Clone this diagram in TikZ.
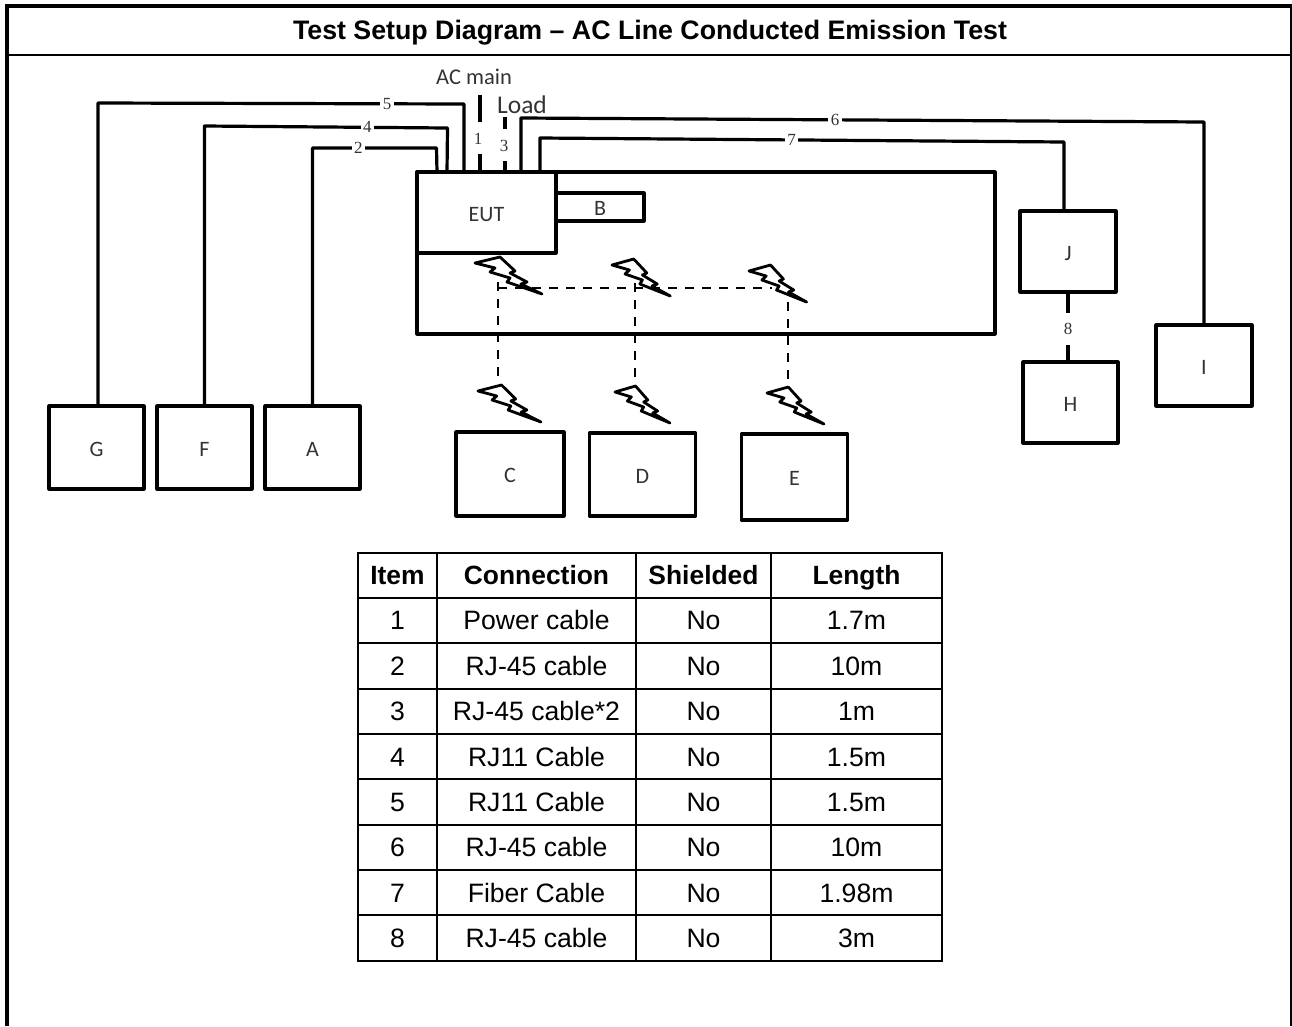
\documentclass[tikz,border=0pt]{standalone}
\usepackage{fontspec}
\setmainfont{Liberation Sans}
\newfontfamily\labelfont{Carlito}
\newfontfamily\numfont{Liberation Serif}
\usepackage{xcolor}

\tikzset{
  unit/.style={rectangle, draw=black, line width=3.2pt, inner sep=0pt, outer sep=0pt, line join=round, text height=17pt, text depth=0pt, font=\labelfont\fontsize{22}{24}\selectfont, text=black!80},
  cable/.style={draw=black, line width=3.2pt, line join=round},
  num/.style={fill=white, inner sep=2.5pt, font=\numfont\fontsize{17}{18}\selectfont, text=black!80},
  radio/.style={draw=black, line width=2.6pt, dash pattern=on 9pt off 8pt},
  cell/.style={rectangle, draw=black, line width=2pt, inner sep=0pt, outer sep=0pt, minimum height=45.35pt, text height=18.6pt, text depth=0pt, font=\fontsize{26.6}{28}\selectfont},
  head/.style={cell, font=\bfseries\fontsize{26.4}{28}\selectfont},
  bolt/.pic={
    \draw[line width=2.8pt, line join=round] (0,0) -- (25,-6) -- (40,8) -- (35,10) -- (52,19) -- (46,21) -- (67,31) -- (32,19) -- (35,15) -- (15,9) -- (20,5) -- cycle;
  }
}

\begin{document}
\begin{tikzpicture}[x=1pt, y=-1pt]
\useasboundingbox (0,0) rectangle (1292,1026);

\draw[line width=4pt] (7,1026) -- (7,6) -- (1292,6);
\draw[line width=2pt] (1291.3,6) -- (1291.3,1026);
\draw[line width=2pt] (7,54.5) -- (1292,54.5);
\node[font=\bfseries\fontsize{26.75}{28}\selectfont] (title) at (650,33) {Test Setup Diagram – AC Line Conducted Emission Test};

\node[unit, minimum width=578pt, minimum height=162pt] (bench) at (706,253) {};
\node[unit, minimum width=139pt, minimum height=81pt] (EUT) at (486.5,212.5) {EUT};
\node[unit, minimum width=88pt, minimum height=28pt] (B) at (600,207) {B};

\node[unit, minimum width=95pt, minimum height=83pt] (G) at (96.5,447.5) {G};
\node[unit, minimum width=95pt, minimum height=83pt] (F) at (204.5,447.5) {F};
\node[unit, minimum width=95pt, minimum height=83pt] (A) at (312.5,447.5) {A};
\node[unit, minimum width=108pt, minimum height=84pt] (C) at (510,474) {C};
\node[unit, minimum width=106pt, minimum height=83pt] (D) at (642.5,474.5) {D};
\node[unit, minimum width=106pt, minimum height=86pt] (E) at (794.5,477) {E};
\node[unit, minimum width=96pt, minimum height=81pt] (J) at (1068,251.5) {J};
\node[unit, minimum width=95pt, minimum height=81pt] (H) at (1070.5,402.5) {H};
\node[unit, minimum width=96pt, minimum height=81pt] (I) at (1204,365.5) {I};

\node[font=\labelfont\fontsize{22.5}{24}\selectfont, text=black!80] (acmain) at (474,77) {AC main};
\node[font=\labelfont\fontsize{25.5}{28}\selectfont, text=black!80] (load) at (522,105) {Load};

\draw[cable] ([xshift=1.5pt]G.north) -- ++(0,-303) -- node[num, pos=0.79] {5} ++(366,1) -- ([xshift=47pt]EUT.north west);
\draw[cable] (F.north) -- ++(0,-280) -- node[num, pos=0.67] {4} ++(243,2) -- ([xshift=30pt]EUT.north west);
\draw[cable] (A.north) -- ++(0,-258) -- node[num, pos=0.37] {2} ++(124,0) -- ([xshift=20pt]EUT.north west);
\draw[cable] (I.north) -- ++(0,-203) -- node[num, pos=0.54] {6} ++(-683,-4) -- ([xshift=104pt]EUT.north west);
\draw[cable] ([xshift=-4pt]J.north) -- ++(0,-69) -- node[num, pos=0.52] {7} ++(-524,-4) -- ([xshift=123pt]EUT.north west);
\draw[cable] ([xshift=63pt]EUT.north west) -- ++(0,-18) ++(0,-32) -- ++(0,-27);
\draw[cable] ([xshift=88pt]EUT.north west) -- ++(0,-11) ++(0,-32) -- ++(0,-12);
\draw[cable] (J.south) -- ++(0,21) ++(0,32) -- ++(0,17);
\node[num] (n1) at (478,139) {1};
\node[num] (n3) at (504,146) {3};
\node[num] (n8) at (1068,329) {8};

\coordinate (r1) at (498,282);
\coordinate (r2) at (635,283);
\coordinate (r3) at (788,302);
\coordinate (s1) at (498,378);
\coordinate (s2) at (635,380);
\coordinate (s3) at (788,381);
\coordinate (h3) at (772,288);
\draw[radio] (r1) -- (s1);
\draw[radio] (r2) -- (s2);
\draw[radio] (r3) -- (s3);
\draw[radio] (r1 |- h3) -- (h3);

\foreach \x/\y/\s in {475/263/1, 612/265/0.87, 749/271/0.86, 478/391/0.94, 615/392/0.82, 767/393/0.85}
  \pic[xscale=\s] at (\x,\y) {bolt};

\node[head, minimum width=79pt] (item0) at (397.5,575.5) {Item};
\node[head, minimum width=199pt] (conn0) at (536.5,575.5) {Connection};
\node[head, minimum width=135pt] (shield0) at (703.5,575.5) {Shielded};
\node[head, minimum width=171pt] (len0) at (856.5,575.5) {Length};
\foreach \no/\conn/\len in {1/Power cable/1.7m, 2/RJ-45 cable/10m, 3/RJ-45 cable*2/1m, 4/RJ11 Cable/1.5m, 5/RJ11 Cable/1.5m, 6/RJ-45 cable/10m, 7/Fiber Cable/1.98m, 8/RJ-45 cable/3m} {
  \node[cell, minimum width=79pt] (item\no) at (397.5,{598+45.35*(\no-0.5)}) {\no};
  \node[cell, minimum width=199pt] (conn\no) at (536.5,{598+45.35*(\no-0.5)}) {\conn};
  \node[cell, minimum width=135pt] (shield\no) at (703.5,{598+45.35*(\no-0.5)}) {No};
  \node[cell, minimum width=171pt] (len\no) at (856.5,{598+45.35*(\no-0.5)}) {\len};
}
\end{tikzpicture}
\end{document}
